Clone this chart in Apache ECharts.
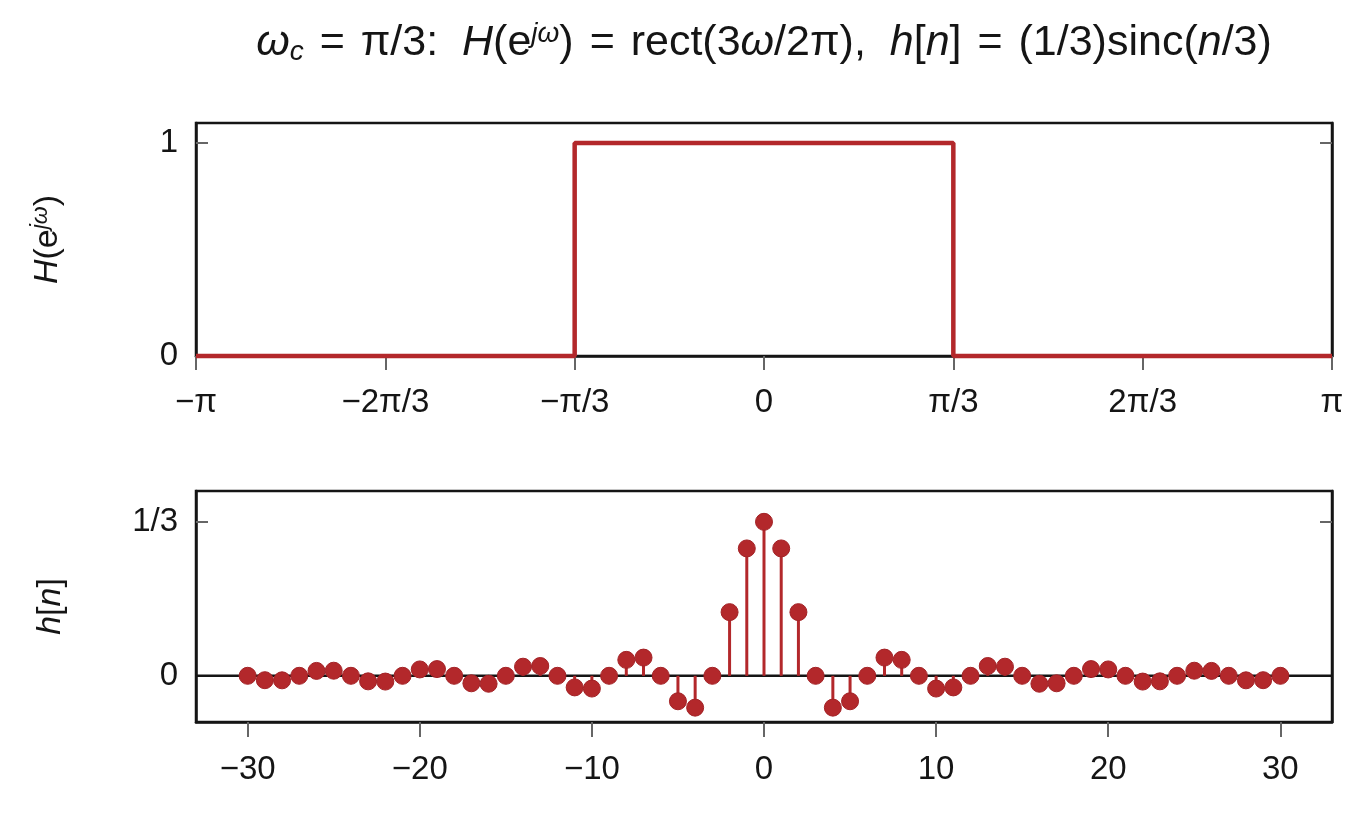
<!DOCTYPE html>
<html><head><meta charset="utf-8">
<script src="https://cdn.jsdelivr.net/npm/echarts@6/dist/echarts.min.js"></script>
<style>html,body{margin:0;padding:0;background:#fff}#c{width:1364px;height:816px}</style>
</head><body><div id="c"></div>
<script>
// Top panel: ideal lowpass H(e^{jw}) (rect), edges in radians
const omegaPoints = [-Math.PI, -Math.PI/3, -Math.PI/3, Math.PI/3, Math.PI/3, Math.PI];
const rectValues  = [0, 0, 1, 1, 0, 0];
const omegaTicks  = [-Math.PI, -2*Math.PI/3, -Math.PI/3, 0, Math.PI/3, 2*Math.PI/3, Math.PI];
const omegaTickLabels = ['−π', '−2π/3', '−π/3', '0', 'π/3', '2π/3', 'π'];

// Bottom panel: h[n] samples, n = -30..30
const nValues = [-30,-29,-28,-27,-26,-25,-24,-23,-22,-21,-20,-19,-18,-17,-16,-15,-14,-13,-12,-11,-10,-9,-8,-7,-6,-5,-4,-3,-2,-1,0,1,2,3,4,5,6,7,8,9,10,11,12,13,14,15,16,17,18,19,20,21,22,23,24,25,26,27,28,29,30];
const hValues = [0,-0.0095,-0.0098,0,0.0106,0.011,0,-0.012,-0.0125,0,0.0138,0.0145,0,-0.0162,-0.0172,0,0.0197,0.0212,0,-0.0251,-0.0276,0,0.0345,0.0394,0,-0.0551,-0.0689,0,0.1378,0.2757,0.3333,0.2757,0.1378,0,-0.0689,-0.0551,0,0.0394,0.0345,0,-0.0276,-0.0251,0,0.0212,0.0197,0,-0.0172,-0.0162,0,0.0145,0.0138,0,-0.0125,-0.012,0,0.011,0.0106,0,-0.0098,-0.0095,0];
const nTicks = [-30,-20,-10,0,10,20,30];
const hTicks = [0, 1/3];
const hTickLabels = ['0', '1/3'];

const RED = '#b3282b';
const INK = '#151515';
const FONT = 'Liberation Sans';
const chart = echarts.init(document.getElementById('c'), null, {renderer:'canvas'});

const lbl = {color:INK, fontSize:33, fontFamily:FONT};
const frameAxis = {onZero:false, lineStyle:{color:INK, width:2.5}};
const tickStyle = {color:'#666', width:2};

const option = {
  animation:false,
  backgroundColor:'#fff',
  title:{
    left: 759, top: 15, textAlign:'center',
    text:'{i|ω}{sub|c}{s| = }π/3:  {i|H}(e{sup|jω}){s| = }rect(3{i|ω}/2π),  {i|h}[{i|n}]{s| = }(1/3)sinc({i|n}/3)',
    textStyle:{
      fontFamily:FONT, fontSize:43, fontWeight:'normal', color:INK,
      rich:{
        i:{fontStyle:'italic', fontWeight:'normal', fontFamily:FONT, fontSize:43, color:INK},
        s:{fontWeight:'normal', fontFamily:FONT, fontSize:43, color:INK, padding:[0,4,0,4]},
        sub:{fontStyle:'italic', fontWeight:'normal', fontFamily:FONT, fontSize:28, color:INK, verticalAlign:'bottom', padding:[18,0,0,0]},
        sup:{fontStyle:'italic', fontWeight:'normal', fontFamily:FONT, fontSize:28, color:INK, verticalAlign:'top', padding:[0,0,18,0]}
      }
    }
  },
  grid:[
    {left:196, top:123, width:1136, height:233, show:true, borderColor:INK, borderWidth:2.5, backgroundColor:'#fff'},
    {left:196, top:491, width:1136, height:231, show:true, borderColor:INK, borderWidth:2.5, backgroundColor:'#fff'}
  ],
  xAxis:[
    {gridIndex:0, type:'value', min:-Math.PI, max:Math.PI, position:'bottom',
     axisLine:{show:true, ...frameAxis}, splitLine:{show:false},
     axisTick:{show:true, inside:false, length:14, customValues:omegaTicks, lineStyle:tickStyle},
     axisLabel:{...lbl, margin:30, customValues:omegaTicks,
       formatter:(v)=>{let k=Math.round(v/(Math.PI/3))+3; return omegaTickLabels[k];}}},
    {gridIndex:1, type:'value', min:-33, max:33, position:'bottom',
     axisLine:{show:true, ...frameAxis}, splitLine:{show:false},
     axisTick:{show:true, inside:false, length:15, customValues:nTicks, lineStyle:tickStyle},
     axisLabel:{...lbl, margin:31, customValues:nTicks, formatter:(v)=>(v<0?'−'+(-v):String(v))}}
  ],
  yAxis:[
    {gridIndex:0, type:'value', min:0, max:1.094, position:'left',
     name:'{i|H}(e{sup|jω})', nameLocation:'middle', nameGap:130, nameRotate:90,
     nameTextStyle:{fontFamily:FONT, fontSize:34, color:INK,
       rich:{i:{fontStyle:'italic', fontFamily:FONT, fontSize:34, color:INK},
             sup:{fontStyle:'italic', fontFamily:FONT, fontSize:23, color:INK, verticalAlign:'top', padding:[0,0,14,0]}}},
     axisLine:{show:true, ...frameAxis}, splitLine:{show:false},
     axisTick:{show:true, inside:true, length:12, customValues:[0,1], lineStyle:tickStyle},
     axisLabel:{...lbl, margin:18, customValues:[0,1], formatter:(v)=>String(Math.round(v))}},
    {gridIndex:0, type:'value', min:0, max:1.094, position:'right',
     axisLine:{show:true, ...frameAxis}, splitLine:{show:false},
     axisTick:{show:true, inside:true, length:12, customValues:[0,1], lineStyle:tickStyle},
     axisLabel:{show:false}},
    {gridIndex:1, type:'value', min:-0.1, max:0.4, position:'left',
     name:'{i|h}[{i|n}]', nameLocation:'middle', nameGap:128, nameRotate:90,
     nameTextStyle:{fontFamily:FONT, fontSize:34, color:INK,
       rich:{i:{fontStyle:'italic', fontFamily:FONT, fontSize:34, color:INK}}},
     axisLine:{show:true, ...frameAxis}, splitLine:{show:false},
     axisTick:{show:true, inside:true, length:12, customValues:hTicks, lineStyle:tickStyle},
     axisLabel:{...lbl, margin:18, customValues:hTicks,
       formatter:(v)=>hTickLabels[hTicks.findIndex(t=>Math.abs(t-v)<1e-6)] || ''}},
    {gridIndex:1, type:'value', min:-0.1, max:0.4, position:'right',
     axisLine:{show:true, ...frameAxis}, splitLine:{show:false},
     axisTick:{show:true, inside:true, length:12, customValues:hTicks, lineStyle:tickStyle},
     axisLabel:{show:false}}
  ],
  series:[
    {type:'line', xAxisIndex:0, yAxisIndex:0, showSymbol:false, symbol:'none', z:5,
     lineStyle:{color:RED, width:4.5}, clip:false,
     data: omegaPoints.map((w,i)=>[w, rectValues[i]])},
    {type:'line', xAxisIndex:1, yAxisIndex:2, showSymbol:false, symbol:'none', z:2,
     lineStyle:{color:INK, width:2.5},
     data:[[-33,0],[33,0]]},
    {type:'bar', xAxisIndex:1, yAxisIndex:2, barWidth:3, z:3,
     itemStyle:{color:RED},
     data: nValues.map((n,i)=>[n, hValues[i]])},
    {type:'scatter', xAxisIndex:1, yAxisIndex:2, symbol:'circle', symbolSize:17, z:4,
     itemStyle:{color:RED, opacity:1, borderColor:'#a32226', borderWidth:1},
     data: nValues.map((n,i)=>[n, hValues[i]])}
  ]
};
chart.setOption(option);
</script></body></html>
